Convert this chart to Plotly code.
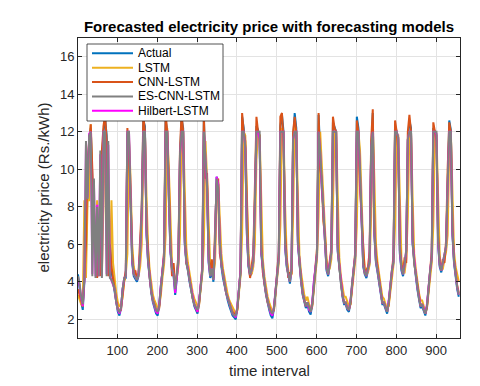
import plotly.graph_objects as go

# sampled every 4th interval, one row per daily cycle
time_interval = list(range(1, 958, 4))

actual = [
    4.4, 3.6, 2.9, 2.5, 3.8, 5.5, 9.0, 11.2, 12.2, 9.5, 6.8, 5.8, 6.2, 5.6, 7.0, 10.5, 12.0, 12.7, 11.8, 8.0, 5.8, 4.6, 4.0, 3.5,
    2.8, 2.4, 2.2, 2.6, 3.6, 4.1, 4.2, 11.9, 11.5, 8.0, 5.0, 4.3, 4.1, 4.0, 4.3, 5.5, 7.5, 12.6, 12.3, 6.5, 5.0, 4.0, 3.4, 2.9,
    2.6, 2.3, 2.2, 2.8, 3.8, 4.6, 5.3, 12.6, 12.0, 8.5, 5.6, 4.6, 4.3, 3.3, 4.4, 5.0, 10.5, 12.7, 12.2, 6.0, 5.0, 4.6, 4.0, 3.5,
    3.0, 2.7, 2.5, 2.3, 2.9, 3.9, 4.6, 12.7, 10.0, 9.0, 5.0, 4.2, 4.6, 4.0, 6.0, 9.6, 9.2, 6.0, 4.8, 4.2, 3.8, 3.3, 3.0, 2.7,
    2.4, 2.2, 2.1, 2.0, 2.6, 3.8, 4.5, 12.8, 12.2, 11.0, 6.5, 4.8, 4.3, 4.5, 5.0, 8.0, 12.3, 12.1, 11.5, 5.5, 4.6, 3.9, 3.3, 2.8,
    2.5, 2.2, 2.05, 2.6, 3.6, 4.5, 5.2, 12.3, 12.9, 12.0, 5.8, 4.8, 4.3, 3.9, 4.6, 11.5, 13.0, 12.2, 6.0, 4.8, 4.0, 3.3, 2.9, 2.6,
    2.8, 2.4, 2.25, 2.8, 3.9, 4.6, 5.4, 12.9, 10.8, 9.0, 7.8, 6.0, 4.6, 4.3, 4.8, 5.5, 12.5, 12.3, 12.0, 5.6, 4.7, 3.8, 3.2, 2.8,
    2.8, 2.5, 2.4, 2.9, 3.9, 4.6, 5.3, 12.8, 12.2, 9.8, 7.0, 4.8, 4.4, 4.2, 4.6, 5.0, 11.0, 13.0, 6.5, 5.0, 4.5, 4.0, 3.3, 2.8,
    2.8, 2.5, 2.3, 2.9, 3.9, 4.5, 5.0, 12.3, 12.0, 11.6, 5.5, 4.6, 4.3, 4.8, 5.6, 11.5, 12.6, 12.2, 6.0, 4.9, 4.3, 3.6, 3.0, 2.6,
    2.7, 2.4, 2.2, 2.7, 3.8, 4.5, 5.2, 12.2, 12.0, 11.8, 6.0, 4.8, 4.5, 4.9, 5.4, 5.8, 9.0, 12.6, 12.1, 6.5, 5.0, 4.2, 3.6, 3.2,
]

lstm = [
    3.3, 3.0, 2.8, 2.7, 8.35, 4.2, 8.35, 8.35, 12.4, 8.35, 6.0, 5.5, 8.35, 4.3, 8.35, 4.4, 8.35, 12.0, 8.35, 8.35, 4.3, 8.35, 5.0, 4.0,
    3.4, 2.9, 2.7, 2.7, 3.2, 4.0, 4.4, 5.5, 11.6, 9.5, 6.0, 4.8, 4.4, 4.2, 4.3, 4.8, 6.0, 10.5, 12.0, 8.5, 5.8, 4.6, 3.9, 3.3,
    3.0, 2.8, 2.6, 2.7, 3.3, 4.2, 4.9, 6.5, 12.2, 10.0, 6.8, 5.0, 4.6, 4.0, 4.2, 4.8, 6.5, 11.8, 12.0, 8.0, 5.8, 5.0, 4.4, 3.8,
    3.4, 3.1, 2.9, 2.7, 2.8, 3.5, 4.4, 6.0, 11.5, 9.5, 7.0, 4.8, 4.5, 4.4, 5.0, 8.0, 9.3, 7.5, 5.5, 4.7, 4.2, 3.7, 3.3, 3.0,
    2.8, 2.6, 2.4, 2.3, 2.5, 3.3, 4.3, 6.5, 12.0, 11.8, 8.5, 5.5, 4.6, 4.4, 4.8, 6.0, 10.5, 12.0, 11.8, 7.5, 5.2, 4.3, 3.7, 3.2,
    2.9, 2.6, 2.4, 2.5, 3.2, 4.2, 5.0, 7.0, 12.2, 12.0, 8.0, 5.3, 4.6, 4.2, 4.4, 7.5, 12.3, 12.0, 8.5, 5.4, 4.5, 3.8, 3.3, 3.0,
    3.2, 2.8, 2.6, 2.7, 3.4, 4.4, 5.2, 7.5, 12.0, 10.0, 8.5, 6.8, 5.2, 4.6, 4.7, 5.2, 8.0, 12.0, 12.0, 8.0, 5.3, 4.3, 3.6, 3.2,
    3.2, 2.9, 2.7, 2.8, 3.5, 4.4, 5.1, 7.0, 12.0, 11.0, 8.5, 5.8, 4.7, 4.4, 4.5, 4.9, 7.5, 12.2, 9.5, 6.0, 5.0, 4.5, 3.8, 3.2,
    3.1, 2.8, 2.6, 2.7, 3.4, 4.3, 4.9, 7.0, 11.8, 11.8, 8.0, 5.2, 4.5, 4.5, 5.2, 7.5, 12.0, 12.0, 8.5, 5.5, 4.7, 4.0, 3.4, 3.0,
    3.0, 2.7, 2.5, 2.6, 3.4, 4.3, 5.0, 7.0, 11.8, 11.8, 8.5, 5.4, 4.7, 4.7, 5.2, 5.6, 6.5, 11.0, 12.0, 9.0, 5.6, 4.8, 4.3, 4.0,
]

cnn_lstm = [
    3.6, 3.3, 2.9, 2.7, 4.2, 6.0, 10.5, 11.5, 12.4, 10.0, 7.0, 6.2, 4.2, 6.5, 4.3, 11.0, 12.3, 12.9, 11.5, 4.3, 6.0, 4.8, 4.1, 3.7,
    3.0, 2.6, 2.4, 2.5, 3.4, 4.1, 4.6, 12.2, 10.5, 8.6, 5.5, 4.4, 4.6, 4.1, 4.5, 6.0, 8.0, 12.9, 12.0, 7.0, 5.3, 4.2, 3.5, 3.0,
    2.8, 2.5, 2.4, 2.6, 3.6, 4.8, 5.6, 13.0, 12.0, 9.5, 6.0, 4.3, 5.0, 3.8, 4.2, 5.5, 11.0, 13.0, 12.0, 6.5, 5.0, 4.7, 4.1, 3.6,
    3.1, 2.8, 2.6, 2.4, 2.8, 3.8, 4.8, 13.0, 9.5, 9.8, 5.5, 4.4, 5.2, 4.2, 6.5, 9.2, 9.5, 5.5, 5.0, 4.3, 3.9, 3.4, 3.1, 2.8,
    2.6, 2.4, 2.3, 2.2, 2.5, 3.6, 4.6, 13.0, 12.0, 11.5, 7.5, 5.0, 4.2, 4.8, 5.5, 9.0, 12.8, 12.0, 11.8, 6.0, 4.5, 3.9, 3.4, 2.9,
    2.7, 2.4, 2.3, 2.5, 3.5, 4.6, 5.6, 12.8, 13.0, 11.5, 6.5, 5.2, 4.2, 4.5, 4.4, 12.0, 12.8, 12.0, 6.5, 5.0, 4.1, 3.4, 3.0, 2.7,
    2.9, 2.6, 2.4, 2.7, 3.8, 4.7, 5.8, 13.0, 10.0, 9.5, 7.2, 6.5, 4.9, 4.4, 5.2, 5.8, 12.8, 12.2, 12.0, 6.0, 4.8, 3.9, 3.3, 2.9,
    2.9, 2.6, 2.5, 2.8, 3.8, 4.8, 5.6, 12.6, 12.0, 9.0, 7.5, 5.5, 4.4, 4.6, 4.8, 5.6, 11.5, 13.2, 7.0, 5.4, 4.7, 4.1, 3.4, 2.9,
    2.9, 2.6, 2.4, 2.8, 3.8, 4.7, 5.4, 12.6, 12.0, 11.0, 6.0, 4.9, 4.5, 5.3, 5.0, 12.0, 12.9, 12.0, 6.5, 5.0, 4.4, 3.7, 3.1, 2.7,
    2.8, 2.5, 2.3, 2.6, 3.7, 4.6, 5.6, 12.5, 12.0, 11.5, 6.5, 5.1, 4.6, 5.2, 5.0, 6.2, 10.0, 12.5, 12.0, 7.0, 5.2, 4.4, 3.8, 3.4,
]

es_cnn_lstm = [
    4.3, 3.9, 3.2, 2.8, 4.2, 11.5, 8.4, 11.8, 12.0, 4.3, 9.5, 4.2, 8.0, 4.3, 11.0, 4.2, 12.0, 12.0, 4.3, 11.5, 4.2, 4.1, 3.9, 3.6,
    2.9, 2.5, 2.4, 2.6, 3.6, 4.2, 4.3, 12.0, 12.0, 8.0, 5.2, 4.4, 4.2, 4.1, 4.4, 5.6, 7.8, 12.0, 12.0, 6.8, 5.1, 4.1, 3.5, 3.0,
    2.7, 2.5, 2.4, 2.7, 3.7, 4.6, 5.3, 12.0, 12.0, 8.8, 5.8, 4.7, 4.4, 3.6, 4.4, 5.2, 10.8, 12.0, 12.0, 6.2, 5.1, 4.6, 4.0, 3.5,
    3.1, 2.8, 2.6, 2.5, 2.9, 3.9, 4.6, 12.0, 10.2, 9.2, 5.2, 4.3, 4.7, 4.1, 6.2, 9.5, 9.0, 6.1, 4.9, 4.3, 3.9, 3.4, 3.1, 2.8,
    2.5, 2.3, 2.2, 2.2, 2.6, 3.7, 4.5, 12.0, 12.0, 11.2, 6.8, 4.9, 4.4, 4.6, 5.1, 8.2, 12.0, 12.0, 12.0, 5.7, 4.7, 4.0, 3.4, 2.9,
    2.6, 2.4, 2.3, 2.6, 3.6, 4.5, 5.3, 12.0, 12.0, 12.0, 6.0, 4.9, 4.4, 4.0, 4.7, 11.6, 12.0, 12.0, 6.2, 4.9, 4.1, 3.4, 3.0, 2.7,
    2.9, 2.6, 2.4, 2.8, 3.9, 4.6, 5.5, 12.0, 11.0, 9.2, 7.6, 6.2, 4.7, 4.4, 4.9, 5.6, 12.0, 12.0, 12.0, 5.8, 4.8, 3.9, 3.3, 2.9,
    2.9, 2.6, 2.5, 2.9, 3.9, 4.6, 5.4, 12.0, 12.0, 10.0, 7.2, 4.9, 4.5, 4.3, 4.7, 5.1, 11.2, 12.0, 6.7, 5.1, 4.6, 4.1, 3.4, 2.9,
    2.9, 2.6, 2.4, 2.9, 3.9, 4.6, 5.1, 12.0, 12.0, 11.7, 5.7, 4.7, 4.4, 4.9, 5.7, 11.6, 12.0, 12.0, 6.2, 5.0, 4.4, 3.7, 3.1, 2.7,
    2.8, 2.5, 2.3, 2.7, 3.8, 4.6, 5.3, 12.0, 12.0, 12.0, 6.2, 4.9, 4.6, 5.0, 5.5, 5.9, 9.2, 12.0, 12.0, 6.7, 5.1, 4.3, 3.7, 3.3,
]

hilbert_lstm = [
    4.2, 3.8, 3.1, 2.7, 4.1, 11.3, 8.5, 11.9, 12.0, 4.4, 9.3, 4.3, 8.1, 4.3, 10.8, 4.3, 12.0, 12.0, 4.4, 11.3, 4.3, 4.1, 3.9, 3.6,
    2.9, 2.5, 2.3, 2.6, 3.6, 4.2, 4.3, 12.0, 12.0, 8.2, 5.1, 4.4, 4.2, 4.1, 4.4, 5.6, 7.6, 12.0, 12.0, 6.6, 5.1, 4.1, 3.5, 3.0,
    2.7, 2.4, 2.3, 2.8, 3.8, 4.7, 5.4, 12.0, 12.0, 8.6, 5.7, 4.7, 4.4, 3.4, 4.5, 5.1, 10.6, 12.0, 12.0, 6.1, 5.1, 4.7, 4.1, 3.6,
    3.1, 2.8, 2.6, 2.4, 3.0, 4.0, 4.7, 12.0, 10.1, 9.1, 5.1, 4.3, 4.7, 4.1, 6.1, 9.6, 9.2, 6.1, 4.9, 4.3, 3.9, 3.4, 3.1, 2.8,
    2.5, 2.3, 2.2, 2.1, 2.7, 3.8, 4.6, 12.0, 12.0, 11.1, 6.6, 4.9, 4.4, 4.6, 5.1, 8.1, 12.0, 12.0, 11.6, 5.6, 4.7, 4.0, 3.4, 2.9,
    2.6, 2.3, 2.2, 2.7, 3.7, 4.6, 5.3, 12.0, 12.0, 12.0, 5.9, 4.9, 4.4, 4.0, 4.7, 11.6, 12.0, 12.0, 6.1, 4.9, 4.1, 3.4, 3.0, 2.7,
    2.9, 2.5, 2.4, 2.9, 4.0, 4.7, 5.5, 12.0, 10.9, 9.1, 7.9, 6.1, 4.7, 4.4, 4.9, 5.6, 12.0, 12.0, 12.0, 5.7, 4.8, 3.9, 3.3, 2.9,
    2.9, 2.6, 2.5, 3.0, 4.0, 4.7, 5.4, 12.0, 12.0, 9.9, 7.1, 4.9, 4.5, 4.3, 4.7, 5.1, 11.1, 12.0, 6.6, 5.1, 4.6, 4.1, 3.4, 2.9,
    2.9, 2.6, 2.4, 3.0, 4.0, 4.6, 5.1, 12.0, 12.0, 11.7, 5.6, 4.7, 4.4, 4.9, 5.7, 11.6, 12.0, 12.0, 6.1, 5.0, 4.4, 3.7, 3.1, 2.7,
    2.8, 2.5, 2.3, 2.8, 3.9, 4.6, 5.3, 12.0, 12.0, 11.9, 6.1, 4.9, 4.6, 5.0, 5.5, 5.9, 9.1, 12.0, 12.0, 6.6, 5.1, 4.3, 3.7, 3.3,
]

x_ticks = [100, 200, 300, 400, 500, 600, 700, 800, 900]
y_ticks = [2, 4, 6, 8, 10, 12, 14, 16]

series = [
    ("Actual", actual, "#0072BD"),
    ("LSTM", lstm, "#EDB120"),
    ("CNN-LSTM", cnn_lstm, "#D95319"),
    ("ES-CNN-LSTM", es_cnn_lstm, "#808080"),
    ("Hilbert-LSTM", hilbert_lstm, "#FF00FF"),
]
for name, values, _ in series:
    assert len(values) == len(time_interval), (name, len(values))

# the page body adds an 8px margin, so the figure is shrunk by that much
PAGE_OFF = 8
W, H = 480 - PAGE_OFF, 386 - PAGE_OFF
PLOT_LEFT, PLOT_RIGHT, PLOT_TOP, PLOT_BOTTOM = 78, 460, 38, 338  # window pixels
L = PLOT_LEFT - PAGE_OFF
T = PLOT_TOP - PAGE_OFF
R = 480 - PLOT_RIGHT
B = 386 - PLOT_BOTTOM
TEXT = "#262626"
FONT = "Liberation Sans, Arial, sans-serif"
LINE_W = 2.0


def px_x(px):
    return (px - PLOT_LEFT) / (PLOT_RIGHT - PLOT_LEFT)


def px_y(py):
    return (PLOT_BOTTOM - py) / (PLOT_BOTTOM - PLOT_TOP)


fig = go.Figure()
# gray drawn last so it sits on top, as in the original
draw_order = [0, 1, 2, 4, 3]
for idx in draw_order:
    name, values, color = series[idx]
    fig.add_trace(
        go.Scatter(
            x=time_interval,
            y=values,
            mode="lines",
            name=name,
            line={"color": color, "width": LINE_W},
            showlegend=False,
        )
    )

axis_common = dict(
    showline=True,
    linecolor=TEXT,
    linewidth=1,
    mirror="ticks",
    ticks="inside",
    ticklen=4,
    tickcolor=TEXT,
    showgrid=True,
    gridcolor="#e3e3e3",
    gridwidth=1,
    zeroline=False,
    tickfont={"size": 13, "color": TEXT, "family": FONT},
)
fig.update_xaxes(range=[1, 960], tickvals=x_ticks, **axis_common)
fig.update_yaxes(range=[1, 17], tickvals=y_ticks, **axis_common)

# legend drawn by hand (MATLAB-style tight box)
shapes = [
    dict(type="rect", xref="paper", yref="paper",
         x0=px_x(87), x1=px_x(223), y0=px_y(121), y1=px_y(44),
         fillcolor="white", line={"color": TEXT, "width": 0.8}, layer="above"),
]
annotations = []
row_y = [53.3, 67.7, 82.0, 96.4, 110.7]
for (name, _, color), ry in zip(series, row_y):
    shapes.append(dict(type="line", xref="paper", yref="paper",
                       x0=px_x(92), x1=px_x(133), y0=px_y(ry), y1=px_y(ry),
                       line={"color": color, "width": LINE_W}, layer="above"))
    annotations.append(dict(xref="paper", yref="paper", x=px_x(136), y=px_y(ry),
                            text=name, showarrow=False, xanchor="left", yanchor="middle",
                            font={"size": 12, "color": "#000000", "family": FONT}))

annotations.append(dict(xref="paper", yref="paper", x=0.5, y=px_y(370),
                        text="time interval", showarrow=False,
                        xanchor="center", yanchor="middle",
                        font={"size": 15, "color": TEXT, "family": FONT}))
annotations.append(dict(xref="paper", yref="paper", x=px_x(42.5), y=0.5,
                        text="electricity price (Rs./kWh)", showarrow=False, textangle=-90,
                        xanchor="center", yanchor="middle",
                        font={"size": 15, "color": TEXT, "family": FONT}))

fig.update_layout(
    width=W,
    height=H,
    margin={"l": L, "r": R, "t": T, "b": B},
    paper_bgcolor="white",
    plot_bgcolor="white",
    title={
        "text": "<b>Forecasted electricity price with forecasting models</b>",
        "x": 0.5,
        "xref": "paper",
        "xanchor": "center",
        "y": 1 - (26.5 - PAGE_OFF) / H,
        "yref": "container",
        "yanchor": "middle",
        "font": {"size": 15, "color": "#000000", "family": FONT},
    },
    shapes=shapes,
    annotations=annotations,
    showlegend=False,
)

fig.write_html("out.html")
